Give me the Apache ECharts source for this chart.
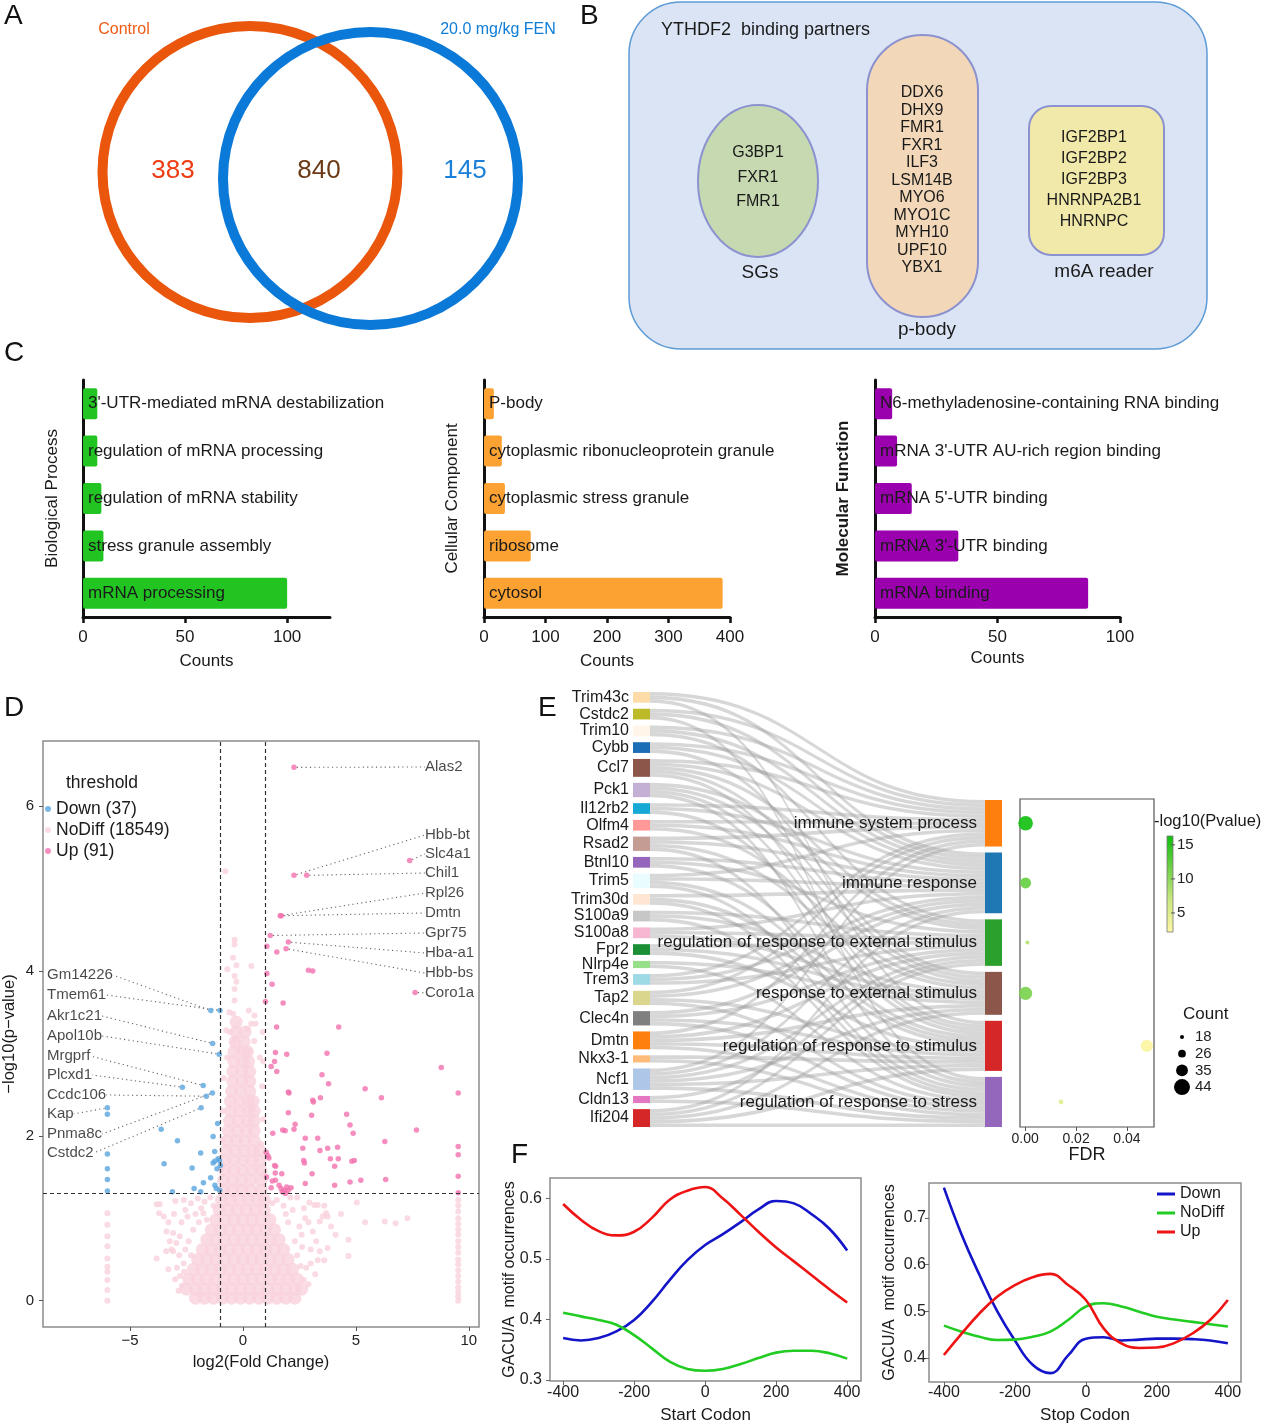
<!DOCTYPE html>
<html><head><meta charset="utf-8">
<script src="https://cdn.jsdelivr.net/npm/echarts@6/dist/echarts.min.js"></script>
<style>html,body{margin:0;padding:0;background:#fff}#c{width:1266px;height:1426px}</style>
</head><body><div id="c"></div>
<script>
const FONT = '"Liberation Sans", Arial, Helvetica, sans-serif';

// ---------- A: Venn ----------
const vennSets = ['Control', '20.0 mg/kg FEN'];
const vennCounts = [383, 840, 145];

// ---------- B: binding partners ----------
const bTitle = 'YTHDF2  binding partners';
const sgGenes = ['G3BP1', 'FXR1', 'FMR1'];
const pbodyGenes = ['DDX6','DHX9','FMR1','FXR1','ILF3','LSM14B','MYO6','MYO1C','MYH10','UPF10','YBX1'];
const m6aGenes = ['IGF2BP1','IGF2BP2','IGF2BP3','HNRNPA2B1','HNRNPC'];
const bGroups = ['SGs', 'p-body', 'm6A reader'];

// ---------- C: GO bars ----------
const bpCats = ["3'-UTR-mediated mRNA destabilization","regulation of mRNA processing","regulation of mRNA stability","stress granule assembly","mRNA processing"];
const bpCounts = [7, 7, 9, 10, 100];
const ccCats = ["P-body","cytoplasmic ribonucleoprotein granule","cytoplasmic stress granule","ribosome","cytosol"];
const ccCounts = [16, 29, 34, 76, 388];
const mfCats = ["N6-methyladenosine-containing RNA binding","mRNA 3'-UTR AU-rich region binding","mRNA 5'-UTR binding","mRNA 3'-UTR binding","mRNA binding"];
const mfCounts = [7, 9, 15, 34, 87];

// ---------- D: volcano ----------
const volXTicks = [-5, 0, 5, 10];
const volYTicks = [0, 2, 4, 6];
const downPts = [
 [-1.42,3.52,'Gm14226'],[-1.02,3.52,'Tmem61'],[-1.34,3.12,'Akr1c21'],[-1.05,2.99,'Apol10b'],
 [-1.76,2.61,'Mrgprf'],[-2.68,2.59,'Plcxd1'],[-1.35,2.52,'Pnma8c'],[-1.62,2.48,'Ccdc106'],[-1.85,2.34,'Cstdc2'],[-6.0,2.34,'Kap'],[-6.0,2.26],
 [-1.12,2.15],[-3.62,2.08],[-1.32,1.99],[-2.90,1.94],[-1.25,1.81],[-1.87,1.79],[-6.0,1.78],
 [-1.10,1.72],[-1.25,1.69],[-1.32,1.67],[-1.04,1.70],[-3.49,1.66],[-1.0,1.64],[-2.25,1.61],[-6.0,1.60],[-6.0,1.47],
 [-1.43,1.49],[-1.75,1.43],[-2.16,1.36],[-1.24,1.40],[-1.18,1.36],[-3.12,1.32],[-1.87,1.32],[-6.0,1.33],[-1.03,1.34],[-1.15,1.60]
];
const upPts = [
 [2.26,6.47,'Alas2'],[2.26,5.16,'Hbb-bt'],[2.82,5.16,'Chil1'],[7.38,5.34,'Slc4a1'],[1.65,4.67,'Rpl26'],[1.70,4.67,'Dmtn'],[1.21,4.43,'Gpr75'],[2.01,4.35,'Hba-a1'],[1.06,4.30],[1.50,4.23],[1.91,4.27,'Hbb-bs'],
 [2.90,4.01],[3.09,4.00],[1.06,3.97],[7.62,3.74,'Coro1a'],[1.29,3.84],[1.00,3.63],[1.78,3.61],[1.49,3.32],[4.24,3.32],
 [1.44,3.01],[1.94,2.99],[3.72,3.00],[8.78,2.83],[1.25,2.84],[1.40,2.90],[1.50,2.78],[3.50,2.74],[3.79,2.63],[5.41,2.57],[9.53,2.52],
 [2.01,2.53],[2.04,2.52],[3.09,2.43],[3.12,2.41],[3.43,2.46],[6.13,2.46],[2.01,2.28],[3.04,2.25],[4.59,2.26],[2.31,2.14],[4.74,2.13],[2.26,2.08],
 [1.76,2.07],[1.87,2.06],[1.32,2.03],[4.88,2.03],[7.68,2.07],[2.76,1.97],[3.31,1.97],[6.28,1.93],[2.65,1.85],[3.75,1.85],[4.19,1.86],[9.53,1.87],
 [3.41,1.82],[1.03,1.80],[1.10,1.76],[1.15,1.73],[9.53,1.77],[2.69,1.70],[2.72,1.67],[3.87,1.72],[4.22,1.72],[4.82,1.69],[4.93,1.70],[4.06,1.63],
 [1.40,1.64],[1.45,1.63],[1.43,1.55],[1.72,1.54],[3.06,1.54],[9.53,1.51],[1.44,1.46],[6.32,1.47],[5.22,1.46],[4.74,1.44],[2.76,1.42],[4.06,1.40],
 [1.69,1.36],[1.84,1.34],[1.94,1.38],[2.13,1.37],[1.74,1.32],[1.88,1.30],[1.25,1.37],[9.53,1.31],[1.05,1.50],[1.30,1.45],[2.00,1.34],[1.60,1.40]
];
// dense NoDiff core, read row by row: [y, x, x, ...]
const noDiffDense = [
 [0.03,-2.1,-1.7,-1.3,-0.9,-0.5,-0.1,0.3,0.7,1.1,1.5,1.9,2.3],
 [0.14,-2.5,-2.1,-1.7,-1.3,-0.9,-0.5,-0.1,0.3,0.7,1.1,1.5,1.9,2.3,2.6],
 [0.26,-2.4,-2.0,-1.6,-1.2,-0.8,-0.4,0,0.4,0.8,1.2,1.6,2.0,2.4],
 [0.38,-2.2,-1.8,-1.4,-1.0,-0.6,-0.2,0.2,0.6,1.0,1.4,1.8,2.2],
 [0.50,-2.0,-1.6,-1.2,-0.8,-0.4,0,0.4,0.8,1.2,1.6,2.0],
 [0.62,-1.8,-1.4,-1.0,-0.6,-0.2,0.2,0.6,1.0,1.4,1.8],
 [0.74,-1.6,-1.2,-0.8,-0.4,0,0.4,0.8,1.2,1.6],
 [0.86,-1.4,-1.0,-0.6,-0.2,0.2,0.6,1.0,1.4],
 [0.98,-1.2,-0.8,-0.4,0,0.4,0.8,1.2],
 [1.10,-1.05,-0.65,-0.25,0.15,0.55,0.95],
 [1.22,-0.95,-0.55,-0.15,0.25,0.65,0.95],
 [1.34,-0.85,-0.45,-0.05,0.35,0.8],
 [1.46,-0.85,-0.45,-0.05,0.35,0.8],
 [1.58,-0.8,-0.4,0,0.4,0.8],
 [1.70,-0.8,-0.4,0,0.4,0.75],
 [1.82,-0.75,-0.35,0.05,0.45,0.75],
 [1.94,-0.7,-0.3,0.1,0.5],
 [2.06,-0.65,-0.25,0.15,0.5],
 [2.18,-0.6,-0.2,0.2,0.5],
 [2.30,-0.55,-0.15,0.25,0.5],
 [2.42,-0.55,-0.15,0.25,0.45],
 [2.54,-0.5,-0.1,0.3],
 [2.66,-0.45,-0.05,0.3],
 [2.78,-0.45,-0.05,0.3],
 [2.90,-0.4,0,0.25],
 [3.02,-0.4,0,0.2],
 [3.14,-0.35,0.05],
 [3.26,-0.3,0.1],
 [3.38,-0.3]
];
const noDiffSparse = [
 [-3.82,1.17],[-3.68,1.17],[-3.71,1.06],[-2.99,1.21],[-2.62,1.22],[-2.3,1.18],[-2.0,1.24],[-1.7,1.2],[-1.45,1.25],[-1.3,1.15],
 [-3.38,0.84],[-3.09,0.82],[-3.24,0.72],[-3.16,0.62],[-3.09,0.60],[-2.8,0.78],[-2.72,0.95],[-2.45,1.02],[-2.55,0.62],[-2.82,0.55],
 [-3.82,0.51],[-2.92,0.40],[-2.62,0.45],[-2.78,0.30],[-3.0,0.26],[-2.7,0.18],[-3.3,0.95],[-2.2,0.86],[-1.95,0.95],[-1.75,1.06],
 [-3.5,1.02],[-2.4,0.72],[-2.1,1.05],[-1.6,0.98],[-1.85,1.12],[-2.55,1.1],[-3.05,1.05],[-2.3,0.55],[-2.95,0.7],[-3.4,0.6],[-2.6,0.35],[-3.3,0.38],[-2.85,0.12],
 [2.94,1.19],[3.16,1.16],[3.31,1.16],[3.60,1.15],[3.68,1.06],[3.75,1.02],[4.34,1.05],[5.04,1.19],[4.67,0.74],[4.67,0.54],[5.41,0.95],[6.28,0.96],[6.76,0.94],[7.28,1.0],
 [3.40,0.96],[3.53,1.02],[3.09,0.84],[3.24,0.72],[3.75,0.64],[3.31,0.49],[3.60,0.49],[3.0,0.45],[2.8,0.40],[2.62,0.65],[2.9,0.95],[2.5,0.9],[2.2,1.1],[1.8,1.15],
 [2.4,1.25],[2.0,0.95],[2.7,0.25],[2.9,0.20],[3.4,0.6],[4.1,0.8],[1.5,1.22],[1.3,1.18],[2.1,1.25],[2.7,1.12],[3.0,0.62],[2.4,0.55],[2.6,0.8],[2.3,0.72],[3.2,0.32],[2.55,0.42],[3.9,0.9],[2.75,1.0],[1.9,1.05],
 [-0.37,4.38],[-0.37,4.32],[-0.44,4.16],[-0.29,4.07],[0.37,4.06],[-0.69,4.02],[-0.37,3.94],[-0.29,3.87],[-0.37,3.78],[-0.37,3.64],[-0.44,3.48],[0.26,3.52],[0.51,3.46],
 [0.37,3.36],[0.56,3.36],[-0.59,3.26],[-0.74,3.28],[-0.37,3.18],[-0.44,3.12],[-0.22,3.06],[0.29,3.02],[0.88,3.26],[-0.78,5.21],[0.9,2.9],[0.85,2.6],[-0.85,2.7],
 [-0.9,2.3],[0.9,2.2],[0.75,2.95],[-0.7,2.95],[0.8,1.9],[-0.9,1.95],[0.92,1.55],[-0.95,1.6],[0.5,3.15],[-0.6,3.5],[0.2,3.3]
];
const noDiffColNegX = -6.0;
const noDiffColNegY = [0,0.13,0.25,0.35,0.41,0.51,0.66,0.78,0.92,1.06];
const noDiffColPosX = 9.53;
const noDiffColPosY = [0,0.05,0.1,0.16,0.23,0.3,0.37,0.44,0.5,0.58,0.65,0.72,0.8,0.86,0.93,1.0,1.08,1.15,1.22];
const volThreshX = [-1, 1];
const volThreshY = 1.3;

// ---------- E: sankey + bubble ----------
const sankeyGenes = ['Trim43c','Cstdc2','Trim10','Cybb','Ccl7','Pck1','Il12rb2','Olfm4','Rsad2','Btnl10','Trim5','Trim30d','S100a9','S100a8','Fpr2','Nlrp4e','Trem3','Tap2','Clec4n','Dmtn','Nkx3-1','Ncf1','Cldn13','Ifi204'];
const geneColors = ['#FDDCA8','#BDBA2A','#FFF5E8','#1B6DB6','#8C564B','#C5B0D5','#17A9D6','#FF9896','#C49C94','#9467BD','#E9FCFF','#FFE6D2','#C7C7C7','#F7B6D2','#1A8F35','#98DF8A','#9EDAE5','#DBD68D','#7F7F7F','#FF7F0E','#FFBB78','#AEC7E8','#E377C2','#D62728'];
const goTerms = ['immune system process','immune response','regulation of response to external stimulus','response to external stimulus','regulation of response to stimulus','regulation of response to stress'];
const termColors = ['#FF7F0E','#1F77B4','#2CA02C','#8C564B','#D62728','#9467BD'];
const geneTermIdx = [[0,1,4],[0,1,5],[0,1,2],[0,1,3],[0,1,2,3,4],[2,3,4,5],[0,1,4],[0,1,3],[0,1,3,5],[1,2,4],[0,1,4,5],[1,4,5],[2,3,5],[1,2,3],[2,3,4],[3,5],[0,1,2],[0,1,4,5],[1,2,4,5],[0,2,3,4,5],[4,5],[0,1,2,3,4,5],[2,5],[1,2,3,4,5]];
const termFDR = [0.0002, 0.0002, 0.0009, 0.0002, 0.0478, 0.0141];
const termCount = [41, 33, 18, 38, 36, 20];
const termLogP = [16, 12, 8, 11, 2.6, 4.8];
const countLegend = [18, 26, 35, 44];
const logPTicks = [5, 10, 15];

// ---------- F: motif curves ----------
const codonPos = [-400,-350,-300,-250,-200,-150,-100,-50,0,50,100,150,200,250,300,350,400];
const startDown = [0.369,0.365,0.369,0.380,0.399,0.429,0.465,0.498,0.523,0.541,0.561,0.582,0.596,0.592,0.574,0.550,0.514];
const startNoDiff = [0.411,0.405,0.399,0.391,0.374,0.352,0.330,0.318,0.315,0.318,0.326,0.336,0.345,0.348,0.348,0.344,0.335];
const startUp = [0.591,0.565,0.546,0.539,0.545,0.568,0.598,0.613,0.619,0.600,0.573,0.545,0.519,0.496,0.473,0.450,0.428];
const stopDown = [0.765,0.664,0.578,0.500,0.437,0.385,0.367,0.405,0.441,0.444,0.437,0.439,0.441,0.441,0.440,0.437,0.431];
const stopNoDiff = [0.469,0.456,0.445,0.438,0.439,0.445,0.456,0.481,0.510,0.517,0.510,0.499,0.488,0.482,0.477,0.472,0.467];
const stopUp = [0.406,0.452,0.495,0.531,0.556,0.573,0.580,0.556,0.524,0.463,0.431,0.421,0.422,0.432,0.452,0.481,0.524];
const fTicksX = [-400,-200,0,200,400];

// =====================================================
const chart = echarts.init(document.getElementById('c'), null, {width:1266, height:1426});
const grid = [], xAxis = [], yAxis = [], series = [], graphic = [];
const txtStyle = (size, color, extra) => Object.assign({fontSize:size, color:color||'#1a1a1a', fontFamily:FONT}, extra||{});

function txt(text, x, y, size, color, align, weight) {
  graphic.push({type:'text', x:x, y:y, silent:true, style:{text:text, fontSize:size, fontFamily:FONT, fill:color||'#1a1a1a',
    align:align||'left', verticalAlign:'middle', textAlign:align||'left', textVerticalAlign:'middle', fontWeight:weight||'normal'}});
}
const noLine = {show:false, onZero:false};

// ----- C bar panels -----
const barPanels = [
  {cats:bpCats, vals:bpCounts, color:'#22C422', max:121, ticks:[0,50,100], name:'Biological Process', bold:false, left:83, width:247, nameGap:22.5, cGap:35.5},
  {cats:ccCats, vals:ccCounts, color:'#FBA232', max:400, ticks:[0,100,200,300,400], name:'Cellular Component', bold:false, left:484, width:246, nameGap:23.5, cGap:35.5},
  {cats:mfCats, vals:mfCounts, color:'#9A00AE', max:100, ticks:[0,50,100], name:'Molecular Function', bold:true, left:875, width:245, nameGap:23.5, cGap:32.5}
];
barPanels.forEach((p, i) => {
  grid.push({left:p.left, top:380, width:p.width, height:237, outerBoundsMode:'none'});
  xAxis.push({gridIndex:i, type:'value', min:0, max:p.max,
    axisLine:{show:true, onZero:false, lineStyle:{color:'#111', width:3}},
    axisTick:{show:true, customValues:p.ticks, length:6, lineStyle:{color:'#111', width:2.5}},
    axisLabel:{customValues:p.ticks, margin:12, fontSize:17, color:'#1a1a1a', fontFamily:FONT},
    splitLine:{show:false}, name:'Counts', nameLocation:'middle', nameGap:p.cGap, nameMoveOverlap:false,
    nameTextStyle:txtStyle(17)});
  yAxis.push({gridIndex:i, type:'category', data:p.cats, inverse:true,
    axisLine:{show:true, onZero:false, lineStyle:{color:'#111', width:3}}, axisTick:{show:false}, axisLabel:{show:false},
    name:p.name, nameLocation:'middle', nameGap:p.nameGap, nameRotate:90, nameMoveOverlap:false,
    nameTextStyle:txtStyle(17, '#1a1a1a', {fontWeight:p.bold?'bold':'normal'})});
  series.push({type:'bar', xAxisIndex:i, yAxisIndex:i, data:p.vals, barWidth:31, silent:true,
    itemStyle:{color:p.color, borderRadius:2},
    label:{show:true, position:'insideLeft', distance:5, formatter:'{b}', fontSize:17, color:'#1a1a1a', fontFamily:FONT}});
});

// ----- D volcano -----
const VG = 3;
grid.push({left:43, top:741, width:436, height:586, show:true, borderColor:'#8c8c8c', borderWidth:1.5, backgroundColor:'#fff', outerBoundsMode:'none'});
xAxis.push({gridIndex:VG, type:'value', min:-8.85, max:10.45, axisLine:noLine,
  axisTick:{show:true, customValues:volXTicks, length:4, lineStyle:{color:'#555'}},
  axisLabel:{customValues:volXTicks, margin:6.5, fontSize:15, color:'#222', fontFamily:FONT, formatter:v => v < 0 ? '\u2212' + (-v) : String(v)},
  splitLine:{show:false}, name:'log2(Fold Change)', nameLocation:'middle', nameGap:27, nameMoveOverlap:false, nameTextStyle:txtStyle(16.5)});
yAxis.push({gridIndex:VG, type:'value', min:-0.32, max:6.79, axisLine:noLine,
  axisTick:{show:true, customValues:volYTicks, length:4, lineStyle:{color:'#555'}},
  axisLabel:{customValues:volYTicks, margin:9, fontSize:15, color:'#222', fontFamily:FONT},
  splitLine:{show:false}, name:'\u2212log10(p\u2212value)', nameLocation:'middle', nameGap:25, nameRotate:90, nameMoveOverlap:false, nameTextStyle:txtStyle(16.5)});

const volLabelPos = {
  'Gm14226':[47,975],'Tmem61':[47,995],'Akr1c21':[47,1016],'Apol10b':[47,1036],'Mrgprf':[47,1056],'Plcxd1':[47,1075],'Ccdc106':[47,1095],'Kap':[47,1114],'Pnma8c':[47,1134],'Cstdc2':[47,1153],
  'Alas2':[425,767],'Hbb-bt':[425,835],'Slc4a1':[425,854],'Chil1':[425,873],'Rpl26':[425,893],'Dmtn':[425,913],'Gpr75':[425,933],'Hba-a1':[425,953],'Hbb-bs':[425,973],'Coro1a':[425,993]
};
const volLabelLayout = function (params) {
  const pos = volLabelPos[params.text];
  if (!pos) return {};
  return {x:pos[0], y:pos[1], align:'left', verticalAlign:'middle'};
};
const volItems = pts => pts.map(p => p.length > 2 ? {name:p[2], value:[p[0], p[1]], label:{show:true}} : [p[0], p[1]]);
const denseData = [];
noDiffDense.forEach(row => { for (let k = 1; k < row.length; k++) denseData.push([row[k], row[0]]); });
const sparseData = noDiffSparse.concat(noDiffColNegY.map(y => [noDiffColNegX, y]), noDiffColPosY.map(y => [noDiffColPosX, y]));
const NODIFF = 'NoDiff (18549)', NDCOL = '#F9D2DC';
series.push({name:NODIFF, type:'scatter', xAxisIndex:VG, yAxisIndex:VG, data:denseData, symbolSize:13, silent:true, itemStyle:{color:NDCOL}, z:2});
series.push({name:NODIFF, type:'scatter', xAxisIndex:VG, yAxisIndex:VG, data:sparseData, symbolSize:6, silent:true, itemStyle:{color:NDCOL}, z:2});
const volLabelCfg = {show:false, formatter:'{b}', fontSize:15, color:'#1a1a1a', fontFamily:FONT};
const volLine = {show:true, lineStyle:{color:'#666', width:1.1, type:[1.2,3.2]}};
series.push({name:'Down (37)', type:'scatter', xAxisIndex:VG, yAxisIndex:VG, data:volItems(downPts), symbolSize:5.5, silent:true,
  itemStyle:{color:'#5AA5DE'}, label:volLabelCfg, labelLayout:volLabelLayout, labelLine:volLine, z:3});
series.push({name:'Up (91)', type:'scatter', xAxisIndex:VG, yAxisIndex:VG, data:volItems(upPts), symbolSize:5.5, silent:true,
  itemStyle:{color:'#F272AE'}, label:volLabelCfg, labelLayout:volLabelLayout, labelLine:volLine, z:3,
  markLine:{silent:true, symbol:['none','none'], label:{show:false}, lineStyle:{color:'#333', width:1.2, type:[4,3]},
    data:[{xAxis:volThreshX[0]},{xAxis:volThreshX[1]},{yAxis:volThreshY}]}});
txt('threshold', 66, 783, 17.5);

// ----- E sankey -----
const SK_LEFT = 633, SK_TOP = 692, SK_W = 369, SK_H = 435, GAP = 6;
const geneVals = geneTermIdx.map(a => a.length);
const termVals = goTerms.map((t, i) => geneTermIdx.filter(a => a.indexOf(i) >= 0).length);
const sum = a => a.reduce((s, v) => s + v, 0);
const ky = Math.min((SK_H - (sankeyGenes.length - 1) * GAP) / sum(geneVals), (SK_H - (goTerms.length - 1) * GAP) / sum(termVals));
const rightH = sum(termVals) * ky + (goTerms.length - 1) * GAP;
let cum = SK_H - rightH;
const termTop = [], termCenter = [];
termVals.forEach(v => { termTop.push(cum); termCenter.push(SK_TOP + cum + v * ky / 2); cum += v * ky + GAP; });
const skNodes = sankeyGenes.map((g, i) => ({name:g, itemStyle:{color:geneColors[i]}}))
  .concat(goTerms.map((t, i) => ({name:t, itemStyle:{color:termColors[i]}, localY:termTop[i] / SK_H, label:{fontSize:17, distance:8}})));
const skLinks = [];
sankeyGenes.forEach((g, i) => geneTermIdx[i].forEach(ti => skLinks.push({source:g, target:goTerms[ti], value:1})));
series.push({type:'sankey', left:SK_LEFT, top:SK_TOP, width:SK_W, height:SK_H, nodeWidth:17, nodeGap:GAP, layoutIterations:0,
  draggable:false, silent:true, emphasis:{disabled:true}, data:skNodes, links:skLinks,
  itemStyle:{borderWidth:0}, lineStyle:{color:'#9c9c9c', opacity:0.4, curveness:0.5},
  label:{position:'left', distance:4, fontSize:16, color:'#1a1a1a', fontFamily:FONT}});

// ----- E bubble -----
const BG = 4, B_TOP = 799, B_H = 328;
grid.push({left:1020, top:B_TOP, width:134, height:B_H, show:true, borderColor:'#555', borderWidth:1.2, outerBoundsMode:'none'});
xAxis.push({gridIndex:BG, type:'value', min:-0.002, max:0.0506, axisLine:noLine,
  axisTick:{show:true, customValues:[0,0.02,0.04], length:4, lineStyle:{color:'#555'}},
  axisLabel:{customValues:[0,0.02,0.04], margin:5, fontSize:14, color:'#222', fontFamily:FONT, formatter:v => v.toFixed(2)},
  splitLine:{show:false}, name:'FDR', nameLocation:'middle', nameGap:19, nameMoveOverlap:false, nameTextStyle:txtStyle(18)});
yAxis.push({gridIndex:BG, type:'value', min:0, max:B_H, inverse:true, show:false, axisLine:noLine});
const bubbleSize = c => 4 + (c - 18) * 0.46;
const bubbleIndex = series.length;
series.push({type:'scatter', xAxisIndex:BG, yAxisIndex:BG, silent:true,
  data:goTerms.map((t, i) => [termFDR[i], termCenter[i] - B_TOP, termCount[i], termLogP[i]]),
  symbolSize:v => bubbleSize(v[2]), itemStyle:{opacity:0.92}});
const LP_MIN = 2.2, LP_MAX = 16.3;
const lpColors = ['#FFF6A5', '#CBE87F', '#6FD048', '#0FBF0F'];
// colour bar legend
const CB_X = 1167, CB_Y = 836, CB_W = 6, CB_H = 96;
graphic.push({type:'rect', silent:true, shape:{x:CB_X, y:CB_Y, width:CB_W, height:CB_H},
  style:{fill:{type:'linear', x:0, y:1, x2:0, y2:0, colorStops:lpColors.map((c, i) => ({offset:i / (lpColors.length - 1), color:c}))}, stroke:'#777', lineWidth:0.8}});
logPTicks.forEach(v => {
  const y = CB_Y + CB_H - (v - LP_MIN) / (LP_MAX - LP_MIN) * CB_H;
  graphic.push({type:'line', silent:true, shape:{x1:CB_X + CB_W - 2, y1:y, x2:CB_X + CB_W + 2, y2:y}, style:{stroke:'#555', lineWidth:1}});
  txt(String(v), CB_X + CB_W + 4, y, 15, '#222');
});
txt('-log10(Pvalue)', 1154, 821, 16.5, '#1a1a1a');
txt('Count', 1183, 1014, 17, '#1a1a1a');
countLegend.forEach((c, i) => {
  const y = 1037 + i * 16.7;
  graphic.push({type:'circle', silent:true, shape:{cx:1182, cy:y, r:bubbleSize(c) / 2}, style:{fill:'#000'}});
  txt(String(c), 1195, y, 15, '#222');
});

// ----- F lines -----
const fPanels = [
  {left:550, top:1178, width:311, height:203, xmin:-437, xmax:439, ymin:0.298, ymax:0.634, yt:[0.3,0.4,0.5,0.6], name:'Start Codon', d:[startDown, startNoDiff, startUp], ynGap:32, xnGap:25.5, ylm:8, xlm:4},
  {left:929, top:1183, width:312, height:199, xmin:-442, xmax:437, ymin:0.348, ymax:0.775, yt:[0.4,0.5,0.6,0.7], name:'Stop Codon', d:[stopDown, stopNoDiff, stopUp], ynGap:31, xnGap:24.5, ylm:3, xlm:3}
];
const fNames = ['Down', 'NoDiff', 'Up'];
const fColors = ['#1414C8', '#22CC22', '#EE1414'];
fPanels.forEach((p, k) => {
  const gi = 5 + k;
  grid.push({left:p.left, top:p.top, width:p.width, height:p.height, show:true, borderColor:'#8c8c8c', borderWidth:1.5, outerBoundsMode:'none'});
  xAxis.push({gridIndex:gi, type:'value', min:p.xmin, max:p.xmax, axisLine:noLine,
    axisTick:{show:true, customValues:fTicksX, length:4, lineStyle:{color:'#666'}},
    axisLabel:{customValues:fTicksX, margin:p.xlm, fontSize:16, color:'#222', fontFamily:FONT},
    splitLine:{show:false}, name:p.name, nameLocation:'middle', nameGap:p.xnGap, nameMoveOverlap:false, nameTextStyle:txtStyle(17)});
  yAxis.push({gridIndex:gi, type:'value', min:p.ymin, max:p.ymax, axisLine:noLine,
    axisTick:{show:true, customValues:p.yt, length:4, lineStyle:{color:'#666'}},
    axisLabel:{customValues:p.yt, margin:p.ylm, fontSize:16, color:'#222', fontFamily:FONT, formatter:v => v.toFixed(1)},
    splitLine:{show:false}, name:'GACU/A  motif occurrences', nameLocation:'middle', nameGap:p.ynGap, nameRotate:90, nameMoveOverlap:false, nameTextStyle:txtStyle(16)});
  p.d.forEach((arr, j) => {
    series.push({name:fNames[j], type:'line', xAxisIndex:gi, yAxisIndex:gi, silent:true, smooth:0.45, showSymbol:false, symbol:'none',
      data:codonPos.map((x, i) => [x, arr[i]]), lineStyle:{width:2.6, color:fColors[j]}, itemStyle:{color:fColors[j]}});
  });
});

// ----- panel letters -----
[['A',4,16],['B',580,16],['C',4,353],['D',4,708],['E',538,708],['F',511,1155]].forEach(l => txt(l[0], l[1], l[2], 28, '#111'));

// ----- A Venn -----
graphic.push({type:'ellipse', silent:true, shape:{cx:250, cy:172, rx:147.5, ry:146}, style:{fill:'none', stroke:'#E9560C', lineWidth:10}});
graphic.push({type:'ellipse', silent:true, shape:{cx:370.5, cy:178.5, rx:147.5, ry:146.5}, style:{fill:'none', stroke:'#0A79D7', lineWidth:10}});
txt(vennSets[0], 124, 30, 16, '#EE5A14', 'center');
txt(vennSets[1], 498, 30, 16, '#0D7DD8', 'center');
txt(String(vennCounts[0]), 173, 171, 26, '#EE3D12', 'center');
txt(String(vennCounts[1]), 319, 171, 26, '#6B3A17', 'center');
txt(String(vennCounts[2]), 465, 171, 26, '#1A80D9', 'center');

// ----- B diagram -----
const BSTROKE = '#8C92CF';
graphic.push({type:'rect', silent:true, shape:{x:629, y:2, width:578, height:347, r:52}, style:{fill:'#DAE4F4', stroke:'#5C9BD6', lineWidth:1.5}});
txt(bTitle, 661, 30, 18, '#1a1a1a');
graphic.push({type:'ellipse', silent:true, shape:{cx:758, cy:181, rx:60, ry:76}, style:{fill:'#C6D9B1', stroke:BSTROKE, lineWidth:2}});
graphic.push({type:'rect', silent:true, shape:{x:867, y:35, width:111, height:282, r:55.5}, style:{fill:'#F2D8B8', stroke:BSTROKE, lineWidth:2}});
graphic.push({type:'rect', silent:true, shape:{x:1029, y:106, width:135, height:149, r:22}, style:{fill:'#F1E9A9', stroke:BSTROKE, lineWidth:2}});
sgGenes.forEach((s, i) => txt(s, 758, 153 + i * 24.5, 16, '#1a1a1a', 'center'));
pbodyGenes.forEach((s, i) => txt(s, 922, 93 + i * 17.5, 16, '#1a1a1a', 'center'));
m6aGenes.forEach((s, i) => txt(s, 1094, 138 + i * 21, 16, '#1a1a1a', 'center'));
txt(bGroups[0], 760, 273, 19, '#1a1a1a', 'center');
txt(bGroups[1], 927, 330, 19, '#1a1a1a', 'center');
txt(bGroups[2], 1104, 272, 19, '#1a1a1a', 'center');

chart.setOption({
  animation:false,
  backgroundColor:'#fff',
  textStyle:{fontFamily:FONT},
  grid:grid, xAxis:xAxis, yAxis:yAxis, series:series, graphic:{elements:graphic},
  legend:[
    {data:['Down (37)', NODIFF, 'Up (91)'], left:45, top:800, orient:'vertical', padding:0, icon:'circle', itemWidth:6, itemHeight:6, itemGap:3, selectedMode:false,
      textStyle:{fontSize:17.5, color:'#1a1a1a', fontFamily:FONT}},
    {data:fNames, left:1157, top:1186, orient:'vertical', padding:0, icon:'rect', itemWidth:18, itemHeight:3, itemGap:3, selectedMode:false,
      textStyle:{fontSize:16, color:'#1a1a1a', fontFamily:FONT}}
  ],
  visualMap:[{show:false, type:'continuous', seriesIndex:bubbleIndex, dimension:3, min:LP_MIN, max:LP_MAX, inRange:{color:lpColors}}]
});
</script></body></html>
